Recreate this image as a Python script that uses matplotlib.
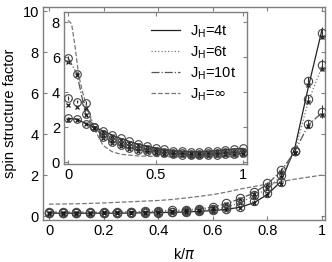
import matplotlib
matplotlib.use("Agg")
import matplotlib.pyplot as plt
import numpy as np

plt.rcParams['font.family'] = ['Liberation Sans', 'DejaVu Sans']
plt.rcParams['font.size'] = 10.5

# momentum grid k/pi
k = np.linspace(0, 1, 21)

# main panel: spin structure factor (circles and crosses for each J_H)
s4_o = [0.15, 0.15, 0.15, 0.15, 0.15, 0.15, 0.15, 0.16, 0.17, 0.19, 0.21,
        0.24, 0.28, 0.34, 0.44, 0.72, 1.12, 1.66, 3.2, 6.6, 8.95]
s4_x = [0.12, 0.12, 0.12, 0.12, 0.13, 0.13, 0.13, 0.14, 0.15, 0.16, 0.18,
        0.21, 0.25, 0.30, 0.40, 0.66, 1.04, 1.58, 3.1, 6.4, 8.75]
s6_o = [0.17, 0.17, 0.17, 0.17, 0.17, 0.17, 0.18, 0.19, 0.20, 0.22, 0.25,
        0.29, 0.34, 0.44, 0.68, 1.02, 1.37, 2.0, 3.2, 5.7, 7.37]
s6_x = [0.14, 0.14, 0.14, 0.14, 0.15, 0.15, 0.16, 0.17, 0.18, 0.20, 0.22,
        0.26, 0.31, 0.40, 0.62, 0.95, 1.30, 1.92, 3.1, 5.55, 7.17]
s10_o = [0.20, 0.20, 0.20, 0.20, 0.20, 0.21, 0.22, 0.23, 0.25, 0.28, 0.31,
         0.36, 0.44, 0.63, 0.88, 1.17, 1.60, 2.25, 3.2, 4.5, 5.1]
s10_x = [0.17, 0.17, 0.17, 0.17, 0.18, 0.18, 0.19, 0.20, 0.22, 0.25, 0.28,
         0.32, 0.40, 0.58, 0.82, 1.10, 1.52, 2.15, 3.1, 4.4, 4.95]
err_main = [0.03, 0.03, 0.03, 0.03, 0.03, 0.03, 0.03, 0.03, 0.03, 0.03, 0.04,
            0.04, 0.04, 0.05, 0.05, 0.06, 0.07, 0.08, 0.1, 0.2, 0.3]

# main panel lines
l4 = [0.14, 0.14, 0.14, 0.14, 0.14, 0.14, 0.15, 0.16, 0.17, 0.18, 0.2,
      0.23, 0.27, 0.33, 0.43, 0.65, 1.05, 1.7, 3.3, 6.3, 9.1]
l6 = [0.16, 0.16, 0.16, 0.16, 0.16, 0.16, 0.17, 0.18, 0.19, 0.21, 0.24,
      0.28, 0.33, 0.43, 0.65, 0.98, 1.33, 1.95, 3.15, 5.6, 7.3]
l10 = [0.19, 0.19, 0.19, 0.19, 0.19, 0.2, 0.21, 0.22, 0.24, 0.27, 0.3,
       0.35, 0.43, 0.61, 0.85, 1.13, 1.56, 2.2, 3.15, 4.45, 5.05]
linf = [0.58, 0.59, 0.60, 0.62, 0.64, 0.67, 0.70, 0.73, 0.76, 0.81, 0.88,
        0.96, 1.05, 1.17, 1.32, 1.44, 1.56, 1.68, 1.80, 1.90, 2.0]

# inset data
i4_o = [2.5, 2.45, 2.2, 2.0, 1.78, 1.55, 1.35, 1.18, 1.02, 0.9, 0.8,
        0.72, 0.66, 0.62, 0.6, 0.6, 0.62, 0.65, 0.7, 0.75, 0.78]
i4_x = [2.4, 2.38, 2.15, 1.95, 1.7, 1.48, 1.28, 1.1, 0.95, 0.84, 0.74,
        0.66, 0.6, 0.56, 0.54, 0.54, 0.56, 0.58, 0.62, 0.66, 0.7]
i6_o = [3.65, 3.45, 3.4, 2.0, 1.6, 1.32, 1.12, 0.97, 0.84, 0.74, 0.66,
        0.59, 0.54, 0.51, 0.49, 0.49, 0.5, 0.52, 0.55, 0.58, 0.6]
i6_x = [3.26, 3.14, 3.1, 1.95, 1.52, 1.25, 1.05, 0.9, 0.78, 0.68, 0.6,
        0.54, 0.49, 0.46, 0.44, 0.44, 0.45, 0.47, 0.49, 0.52, 0.54]
i10_o = [5.95, 5.05, 2.75, 2.0, 1.45, 1.15, 0.95, 0.8, 0.7, 0.62, 0.55,
         0.5, 0.46, 0.43, 0.41, 0.41, 0.42, 0.43, 0.45, 0.47, 0.5]
i10_x = [5.7, 4.95, 2.7, 1.95, 1.4, 1.1, 0.9, 0.75, 0.65, 0.57, 0.5,
         0.45, 0.41, 0.38, 0.36, 0.36, 0.37, 0.38, 0.4, 0.42, 0.44]
err_in = [0.1, 0.08, 0.08, 0.05, 0.04, 0.03, 0.03, 0.03, 0.03, 0.03, 0.03,
          0.03, 0.03, 0.03, 0.03, 0.03, 0.03, 0.03, 0.03, 0.03, 0.03]
k_inf = [0, 0.02, 0.04, 0.06, 0.08, 0.1, 0.125, 0.15, 0.2, 0.25, 0.3,
         0.4, 0.5, 0.6, 0.7, 0.8, 0.9, 1.0]
in_inf = [8.1, 7.9, 6.6, 5.0, 4.1, 3.4, 2.6, 1.9, 0.95, 0.6, 0.45,
          0.35, 0.32, 0.3, 0.3, 0.3, 0.3, 0.3]

labels = [r'J$_\mathregular{H}$=4t', r'J$_\mathregular{H}$=6t',
          r'J$_\mathregular{H}$=10t', r'J$_\mathregular{H}$=$\infty$']
styles = ['-', ':', '-.', '--']
colors = ['#222222', '#777777', '#555555', '#777777']
spine_col = '#7f7f7f'


def style_axes(ax):
    for s in ax.spines.values():
        s.set_color(spine_col)
        s.set_linewidth(1.0)
    ax.tick_params(direction='in', top=True, right=True, length=3,
                   color=spine_col, pad=3)


def draw_points(ax, pts, err, ms):
    for vo, vx in pts:
        ax.errorbar(k, vo, yerr=err, fmt='o', mfc='none', mec='#444444',
                    ecolor='#333333', ms=ms, mew=0.8, elinewidth=0.8,
                    capsize=0, zorder=3)
        ax.plot(k, vx, 'x', color='#1a1a1a', ms=ms * 0.6, mew=0.9, zorder=3)


fig = plt.figure(figsize=(3.32, 2.62), dpi=100)
ax = fig.add_axes([0.1295, 0.160, 0.8495, 0.813])
lines_main = [l4, l6, l10, linf]
for yv, ls, c in zip(lines_main, styles, colors):
    ax.plot(k, yv, ls, color=c, lw=0.9, zorder=2)
draw_points(ax, [(s4_o, s4_x), (s6_o, s6_x), (s10_o, s10_x)], err_main, 6)
ax.set_xlim(-0.022, 1.011)
ax.set_ylim(-0.195, 10.2)
ax.set_xticks([0, 0.2, 0.4, 0.6, 0.8, 1])
ax.set_xticklabels(['0', '0.2', '0.4', '0.6', '0.8', '1'])
ax.set_yticks([0, 2, 4, 6, 8, 10])
ax.set_xlabel(r'k/$\pi$', labelpad=6)
ax.set_ylabel('spin structure factor', labelpad=4)
style_axes(ax)

ins = fig.add_axes([0.193, 0.374, 0.551, 0.580])
ins.plot(k, i4_o, '-', color=colors[0], lw=0.9, zorder=2, label=labels[0])
ins.plot(k, i6_o, ':', color=colors[1], lw=0.9, zorder=2, label=labels[1])
ins.plot(k, i10_o, '-.', color=colors[2], lw=0.9, zorder=2, label=labels[2])
ins.plot(k_inf, in_inf, '--', color=colors[3], lw=0.9, zorder=2, label=labels[3])
draw_points(ins, [(i4_o, i4_x), (i6_o, i6_x), (i10_o, i10_x)], err_in, 5.5)
ins.set_xlim(-0.023, 1.023)
ins.set_ylim(-0.11, 8.57)
ins.set_xticks([0, 0.5, 1])
ins.set_xticklabels(['0', '0.5', '1'])
ins.set_yticks([0, 2, 4, 6, 8])
style_axes(ins)
ins.legend(loc='upper right', frameon=False, handlelength=2.0,
           handletextpad=0.7, labelspacing=0.3, borderaxespad=0.35,
           fontsize=10.5)

fig.savefig('out.png', dpi=100)
